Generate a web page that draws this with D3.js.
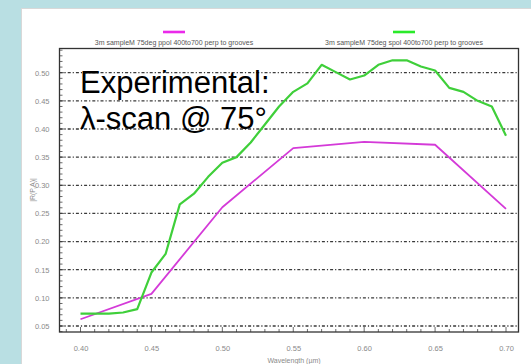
<!DOCTYPE html>
<html>
<head>
<meta charset="utf-8">
<script src="https://cdnjs.cloudflare.com/ajax/libs/d3/7.8.5/d3.min.js"></script>
<style>
  html, body { margin: 0; padding: 0; background: #b9dfe3; }
  svg { display: block; font-family: "Liberation Sans", Arial, sans-serif; }
</style>
</head>
<body>
<svg id="chart" width="531" height="364"></svg>
<script>
// Wavelength samples (µm) and |R(P,A)| for each polarisation
const ppolWavelength = [0.40, 0.45, 0.50, 0.55, 0.60, 0.65, 0.70];
const ppolValues     = [0.062, 0.107, 0.261, 0.366, 0.377, 0.372, 0.258];

const spolWavelength = [0.40, 0.41, 0.42, 0.43, 0.44, 0.45, 0.46, 0.47, 0.48, 0.49,
                        0.50, 0.51, 0.52, 0.53, 0.54, 0.55, 0.56, 0.57, 0.58, 0.59,
                        0.60, 0.61, 0.62, 0.63, 0.64, 0.65, 0.66, 0.67, 0.68, 0.69, 0.70];
const spolValues     = [0.072, 0.072, 0.072, 0.074, 0.080, 0.145, 0.178, 0.266, 0.285, 0.315,
                        0.340, 0.350, 0.376, 0.408, 0.440, 0.466, 0.481, 0.514, 0.501, 0.488,
                        0.495, 0.514, 0.522, 0.522, 0.511, 0.504, 0.473, 0.466, 0.450, 0.440, 0.388];

const seriesNames = ["3m sampleM 75deg ppol 400to700 perp to grooves",
                     "3m sampleM 75deg spol 400to700 perp to grooves"];
const xTickValues = [0.40, 0.45, 0.50, 0.55, 0.60, 0.65, 0.70];
const yTickValues = [0.05, 0.10, 0.15, 0.20, 0.25, 0.30, 0.35, 0.40, 0.45, 0.50];
const xTitle = "Wavelength (µm)";
const yTitle = "|R(P,A)|";
const noteLines = ["Experimental:", "λ-scan @ 75°"];

const svg = d3.select("#chart");

// white panel
svg.append("rect").attr("x", 21.5).attr("y", 8.5).attr("width", 515).attr("height", 360)
  .attr("fill", "#fff").attr("stroke", "#d8d8d8");

const box = { left: 59.5, right: 518.5, top: 48.5, bottom: 332 };
const x = d3.scaleLinear().domain([0.40, 0.70]).range([80.5, 506]);
const y = d3.scaleLinear().domain([0.05, 0.50]).range([326, 72.7]);

// dashed grid lines
svg.append("g").selectAll("line").data(yTickValues).join("line")
  .attr("x1", box.left).attr("x2", box.right)
  .attr("y1", d => y(d)).attr("y2", d => y(d))
  .attr("stroke", "#3a3a3a").attr("stroke-width", 1.3)
  .attr("stroke-dasharray", "3,2,1.2,2");

// minor ticks on the left and bottom edges
const isMajor = d => Math.abs(d * 20 - Math.round(d * 20)) < 1e-6;
const yMinor = d3.range(0.04, 0.545, 0.01);
svg.append("g").selectAll("line").data(yMinor).join("line")
  .attr("x1", box.left).attr("x2", d => box.left + (isMajor(d) ? 5 : 3))
  .attr("y1", d => y(d)).attr("y2", d => y(d))
  .attr("stroke", "#444").attr("stroke-width", 0.8);
const xMinor = d3.range(0.39, 0.7085, 0.01);
svg.append("g").selectAll("line").data(xMinor).join("line")
  .attr("x1", d => x(d)).attr("x2", d => x(d))
  .attr("y1", box.bottom).attr("y2", d => box.bottom - (isMajor(d) ? 5 : 3))
  .attr("stroke", "#444").attr("stroke-width", 0.8);

// plot frame
svg.append("rect").attr("x", box.left).attr("y", box.top)
  .attr("width", box.right - box.left).attr("height", box.bottom - box.top)
  .attr("fill", "none").attr("stroke", "#333").attr("stroke-width", 1.3);

// tick labels through d3 axes
const fmt = d3.format(".2f");
const xAxis = svg.append("g").attr("transform", `translate(0,${box.bottom})`)
  .call(d3.axisBottom(x).tickValues(xTickValues).tickFormat(fmt).tickSize(0).tickPadding(14));
const yAxis = svg.append("g").attr("transform", `translate(${box.left},0)`)
  .call(d3.axisLeft(y).tickValues(yTickValues).tickFormat(fmt).tickSize(0).tickPadding(10));
[xAxis, yAxis].forEach(a => {
  a.select(".domain").remove();
  a.selectAll("text").attr("fill", "#8a8a8a").style("font-size", "7.5px")
    .style("font-family", "'Liberation Sans', Arial, sans-serif");
});

// axis titles
svg.append("text").attr("x", 294).attr("y", 362.5).attr("text-anchor", "middle")
  .attr("fill", "#8a8a8a").style("font-size", "7px").text(xTitle);
svg.append("text").attr("transform", "translate(34.5,190) rotate(-90)").attr("text-anchor", "middle")
  .attr("fill", "#8a8a8a").style("font-size", "7px").text(yTitle);

// data lines
const line = d3.line().x(d => x(d[0])).y(d => y(d[1]));
const ppol = ppolWavelength.map((w, i) => [w, ppolValues[i]]);
const spol = spolWavelength.map((w, i) => [w, spolValues[i]]);
svg.append("path").datum(ppol).attr("d", line).attr("fill", "none")
  .attr("stroke", "#d43ad8").attr("stroke-width", 1.8).attr("stroke-linejoin", "round");
svg.append("path").datum(spol).attr("d", line).attr("fill", "none")
  .attr("stroke", "#3fcf3a").attr("stroke-width", 2.2).attr("stroke-linejoin", "round");

// legend
const legend = [
  { name: seriesNames[0], color: "#ea2aea", cx: 174 },
  { name: seriesNames[1], color: "#2aea2a", cx: 404 }
];
const lg = svg.append("g").selectAll("g").data(legend).join("g");
lg.append("line").attr("x1", d => d.cx - 11).attr("x2", d => d.cx + 11)
  .attr("y1", 32).attr("y2", 32).attr("stroke", d => d.color).attr("stroke-width", 2.6);
lg.append("text").attr("x", d => d.cx).attr("y", 44.5).attr("text-anchor", "middle")
  .attr("fill", "#555").style("font-size", "7px").text(d => d.name);

// annotation
svg.append("g").selectAll("text").data(noteLines).join("text")
  .attr("x", 80).attr("y", (d, i) => 93.3 + i * 36)
  .attr("fill", "#000").style("font-size", "31px")
  .style("font-family", "'Liberation Sans', Arial, sans-serif").text(d => d);
</script>
</body>
</html>
